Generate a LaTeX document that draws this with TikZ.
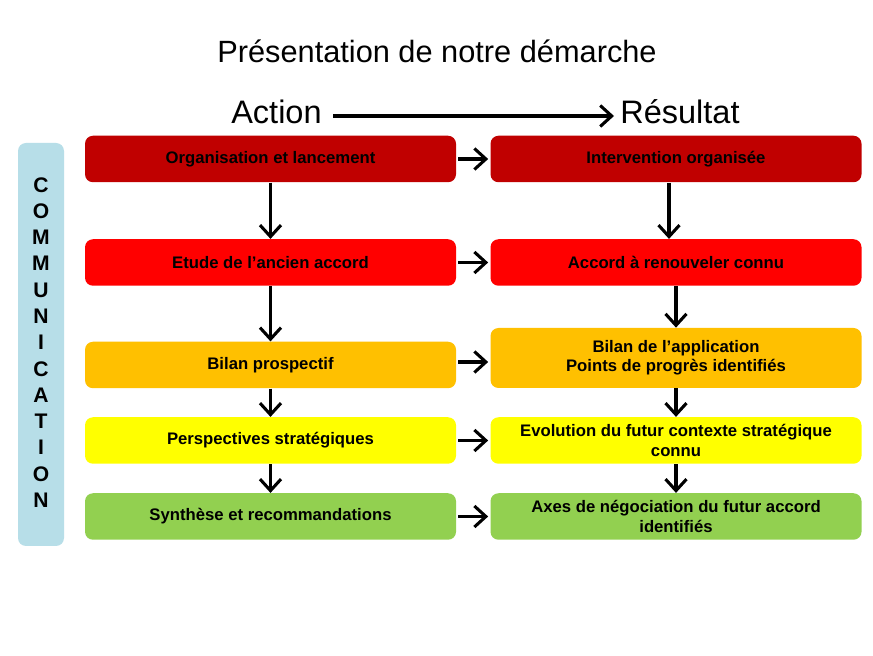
\documentclass[tikz,border=0pt]{standalone}
\usepackage{fontspec}
\setmainfont{Liberation Sans}
\usetikzlibrary{arrows.meta}
\definecolor{rowone}{HTML}{C00000}
\definecolor{rowtwo}{HTML}{FF0000}
\definecolor{rowthree}{HTML}{FFC000}
\definecolor{rowfour}{HTML}{FFFF00}
\definecolor{rowfive}{HTML}{92D050}
\definecolor{commfill}{HTML}{B7DEE8}
\begin{document}
\begin{tikzpicture}
	\tikzstyle{none}=[inner sep=0pt]
	\tikzstyle{box}=[rounded corners=0.16cm,minimum width=7.42cm,minimum height=0.93cm,align=center,inner sep=1pt,font=\fontsize{9.5}{11}\selectfont\bfseries]
	\tikzstyle{arrow1}=[-{Straight Barb[length=2.3mm,width=4.2mm]},draw,line width=1.75pt]
	\tikzstyle{letter}=[inner sep=0pt,font=\fontsize{12}{14}\selectfont\bfseries]
		\fill [white] (0, 0) rectangle (17.46, 13.1);
		\node [style=none, font=\fontsize{17.5}{20}\selectfont] (0) at (8.74, 12.08) {Présentation de notre démarche};
		\node [style=none, font=\fontsize{18.5}{21}\selectfont, anchor=east] (1) at (6.44, 10.86) {Action};
		\node [style=none, font=\fontsize{18.5}{21}\selectfont, anchor=west] (2) at (12.4, 10.86) {Résultat};

		\node [style=box, fill=rowone] (3) at (5.41, 9.92) {Organisation et lancement};
		\node [style=box, fill=rowtwo] (4) at (5.41, 7.85) {Etude de l’ancien accord};
		\node [style=box, fill=rowthree] (5) at (5.41, 5.8) {Bilan prospectif};
		\node [style=box, fill=rowfour] (6) at (5.41, 4.29) {Perspectives stratégiques};
		\node [style=box, fill=rowfive] (7) at (5.41, 2.77) {Synthèse et recommandations};

		\node [style=box, fill=rowone] (8) at (13.52, 9.92) {Intervention organisée};
		\node [style=box, fill=rowtwo] (9) at (13.52, 7.85) {Accord à renouveler connu};
		\node [style=box, fill=rowthree, minimum height=1.2cm] (10) at (13.52, 5.94) {Bilan de l’application\\Points de progrès identifiés};
		\node [style=box, fill=rowfour] (11) at (13.52, 4.29) {Evolution du futur contexte stratégique\\connu};
		\node [style=box, fill=rowfive] (12) at (13.52, 2.77) {Axes de négociation du futur accord\\identifiés};

		\node [style=none, fill=commfill, rounded corners=0.16cm, minimum width=0.92cm, minimum height=8.06cm] (13) at (0.82, 6.21) {};
		\foreach \l [count=\i from 0] in {C,O,M,M,U,N,I,C,A,T,I,O,N}
			\node [style=letter] (c\i) at (0.82, 9.4-0.525*\i) {\l};

		\draw [style=arrow1, shorten <=0.22cm, shorten >=0.12cm] ([yshift=-0.08cm]1.east) to ([yshift=-0.08cm]2.west);
		\draw [style=arrow1] (3.south) to (4.north);
		\draw [style=arrow1] (4.south) to (5.north);
		\draw [style=arrow1] (5.south) to (6.north);
		\draw [style=arrow1] (6.south) to (7.north);
		\draw [style=arrow1] ([xshift=-0.14cm]8.south) to ([xshift=-0.14cm]9.north);
		\draw [style=arrow1] (9.south) to (10.north);
		\draw [style=arrow1] (10.south) to (11.north);
		\draw [style=arrow1] (11.south) to (12.north);
		\draw [style=arrow1, shorten <=0.04cm, shorten >=0.04cm] (3.east) to (8.west);
		\draw [style=arrow1, shorten <=0.04cm, shorten >=0.04cm] (4.east) to (9.west);
		\draw [style=arrow1, shorten <=0.04cm, shorten >=0.04cm] ([yshift=0.06cm]5.east) to ([yshift=0.06cm]5.east -| 10.west);
		\draw [style=arrow1, shorten <=0.04cm, shorten >=0.04cm] (6.east) to (11.west);
		\draw [style=arrow1, shorten <=0.04cm, shorten >=0.04cm] (7.east) to (12.west);

\end{tikzpicture}
\end{document}
